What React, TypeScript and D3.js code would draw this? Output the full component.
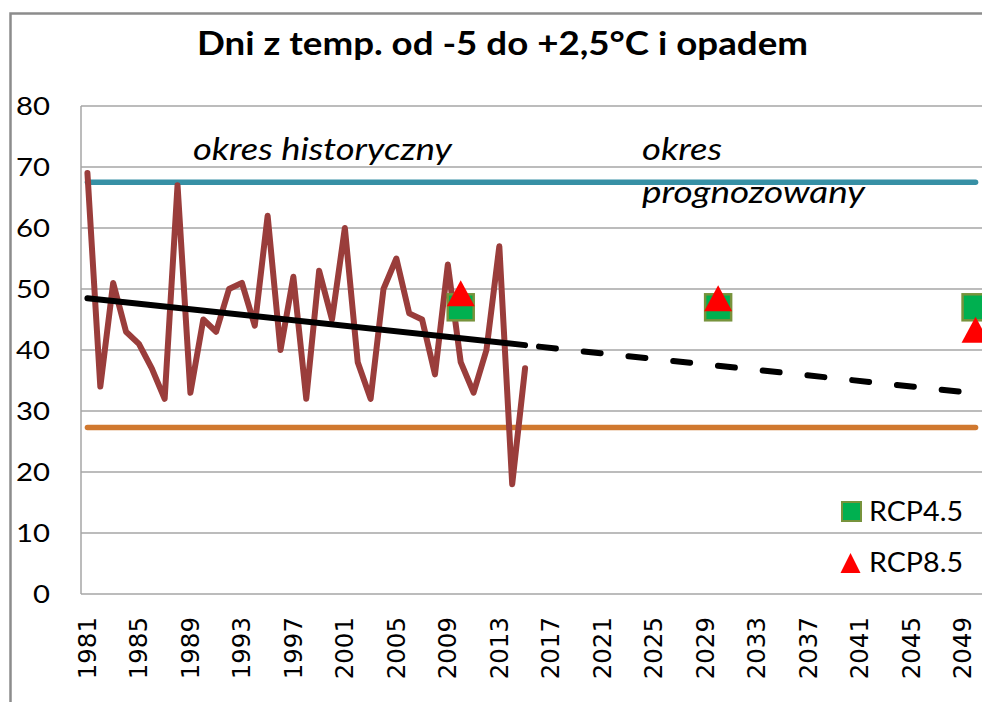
import { useEffect } from 'react';
import * as d3 from 'd3';

// years on the category axis
const YEARS = d3.range(1981, 2051).map(String);
const TICK_YEARS = [1981, 1985, 1989, 1993, 1997, 2001, 2005, 2009, 2013, 2017, 2021, 2025, 2029, 2033, 2037, 2041, 2045, 2049];
const Y_TICKS = [0, 10, 20, 30, 40, 50, 60, 70, 80];

// observed days, 1981-2015
const OBS_YEARS = [1981, 1982, 1983, 1984, 1985, 1986, 1987, 1988, 1989, 1990, 1991, 1992, 1993, 1994, 1995, 1996, 1997, 1998,
  1999, 2000, 2001, 2002, 2003, 2004, 2005, 2006, 2007, 2008, 2009, 2010, 2011, 2012, 2013, 2014, 2015];
const OBS_VALUES = [69, 34, 51, 43, 41, 37, 32, 67, 33, 45, 43, 50, 51, 44, 62, 40, 52, 32,
  53, 45, 60, 38, 32, 50, 55, 46, 45, 36, 54, 38, 33, 40, 57, 18, 37];

// linear trend (solid over history, dashed for the forecast)
const TREND_HIST = [{ year: 1981, v: 48.5 }, { year: 2015, v: 40.8 }];
const TREND_FORECAST = [{ year: 2015, v: 40.8 }, { year: 2050, v: 32.9 }];

// scenario markers
const RCP45 = [{ year: 2010, v: 47 }, { year: 2030, v: 47 }, { year: 2050, v: 47 }];
const RCP85 = [{ year: 2010, v: 49.3 }, { year: 2030, v: 48.5 }, { year: 2050, v: 43.3 }];

// reference levels
const UPPER_LEVEL = 67.5;
const LOWER_LEVEL = 27.3;

const COLORS = {
  obs: '#9a3d3b',
  trend: '#000000',
  upper: '#3790a5',
  lower: '#d0782f',
  sqFill: '#00b050',
  sqStroke: '#77933c',
  tri: '#ff0000',
  grid: '#a6a6a6',
  border: '#8c8c8c',
};

const W = 982;
const H = 702;
const LATO = 'Lato, "Open Sans", sans-serif';

type Pt = { year: number; v: number };

export default function App() {
  useEffect(() => {
    document.body.style.margin = '0';
    document.body.style.overflow = 'hidden';
  }, []);

  const x = d3.scaleBand<string>().domain(YEARS).range([81, 982]);
  const cx = (yr: number) => (x(String(yr)) ?? 0) + x.bandwidth() / 2;
  const y = d3.scaleLinear().domain([0, 80]).range([594, 106]);

  const line = d3.line<Pt>().x(d => cx(d.year)).y(d => y(d.v));
  const obs = OBS_YEARS.map((yr, i) => ({ year: yr, v: OBS_VALUES[i] }));

  const first = +YEARS[0];
  const last = +YEARS[YEARS.length - 1];
  const flat = (v: number) => line([{ year: first, v }, { year: last, v }]) || '';

  const sq = 26;
  const triPath = (px: number, py: number, w: number, h: number) =>
    `M${px},${py - h / 2}L${px + w / 2},${py + h / 2}L${px - w / 2},${py + h / 2}Z`;

  return (
    <div style={{ position: 'absolute', left: 0, top: 0, width: W, height: H, overflow: 'hidden', background: '#fff' }}>
      <svg width={W} height={H} style={{ display: 'block' }}>
        <rect x={0} y={0} width={W} height={H} fill="#fff" />
        {/* chart frame: only left and top edges are inside the picture */}
        <path d={`M10.5,${H}V13.5H${W}`} fill="none" stroke={COLORS.border} strokeWidth={2.5} />

        <text x={197} y={55} fontFamily={LATO} fontWeight="bold" fontSize={32} textLength={611}
          lengthAdjust="spacingAndGlyphs" fill="#000">Dni z temp. od -5 do +2,5°C i opadem</text>

        {/* gridlines */}
        {Y_TICKS.map(t => (
          <line key={t} x1={81} x2={W} y1={y(t)} y2={y(t)} stroke={COLORS.grid} strokeWidth={1.5} />
        ))}
        <line x1={81} x2={81} y1={y(80)} y2={y(0)} stroke={COLORS.grid} strokeWidth={1.5} />

        {/* y labels */}
        {Y_TICKS.map(t => (
          <text key={t} x={50} y={y(t)} dy="0.36em" textAnchor="end" fontFamily={LATO} fontSize={25}
            textLength={String(t).length * 17} lengthAdjust="spacingAndGlyphs" fill="#000">{t}</text>
        ))}

        {/* x labels */}
        {TICK_YEARS.map(t => (
          <text key={t} transform={`translate(${cx(t)},617) rotate(-90)`} dy="0.35em" textAnchor="end"
            fontFamily='"DejaVu Sans", sans-serif' fontSize={24.5} fill="#000">{t}</text>
        ))}

        {/* annotations */}
        <text x={193} y={160} fontFamily={LATO} fontStyle="italic" fontSize={30} textLength={259}
          lengthAdjust="spacingAndGlyphs" fill="#000">okres historyczny</text>
        <text x={642} y={160} fontFamily={LATO} fontStyle="italic" fontSize={30} textLength={80}
          lengthAdjust="spacingAndGlyphs" fill="#000">okres</text>
        <text x={642} y={203} fontFamily={LATO} fontStyle="italic" fontSize={30} textLength={223}
          lengthAdjust="spacingAndGlyphs" fill="#000">prognozowany</text>

        {/* reference levels */}
        <path d={flat(UPPER_LEVEL)} fill="none" stroke={COLORS.upper} strokeWidth={5.5} strokeLinecap="round" />
        <path d={flat(LOWER_LEVEL)} fill="none" stroke={COLORS.lower} strokeWidth={5.5} strokeLinecap="round" />

        {/* observations */}
        <path d={line(obs) || ''} fill="none" stroke={COLORS.obs} strokeWidth={6}
          strokeLinejoin="round" strokeLinecap="round" />

        {/* trend */}
        <path d={line(TREND_HIST) || ''} fill="none" stroke={COLORS.trend} strokeWidth={6} strokeLinecap="round" />
        <path d={line(TREND_FORECAST) || ''} fill="none" stroke={COLORS.trend} strokeWidth={6}
          strokeLinecap="round" strokeDasharray="17,28" strokeDashoffset={31} />

        {/* RCP markers */}
        {RCP45.map(d => (
          <rect key={d.year} x={cx(d.year) - sq / 2} y={y(d.v) - sq / 2} width={sq} height={sq}
            fill={COLORS.sqFill} stroke={COLORS.sqStroke} strokeWidth={2.5} />
        ))}
        {RCP85.map(d => (
          <path key={d.year} d={triPath(cx(d.year), y(d.v), 28, 26)} fill={COLORS.tri} />
        ))}

        {/* legend */}
        <rect x={842} y={502} width={19} height={19} fill={COLORS.sqFill} stroke={COLORS.sqStroke} strokeWidth={2} />
        <text x={869} y={521} fontFamily={LATO} fontSize={26} textLength={94} lengthAdjust="spacingAndGlyphs"
          fill="#000">RCP4.5</text>
        <path d={triPath(850.5, 563, 20, 20)} fill={COLORS.tri} />
        <text x={869} y={572} fontFamily={LATO} fontSize={26} textLength={94} lengthAdjust="spacingAndGlyphs"
          fill="#000">RCP8.5</text>
      </svg>
    </div>
  );
}
